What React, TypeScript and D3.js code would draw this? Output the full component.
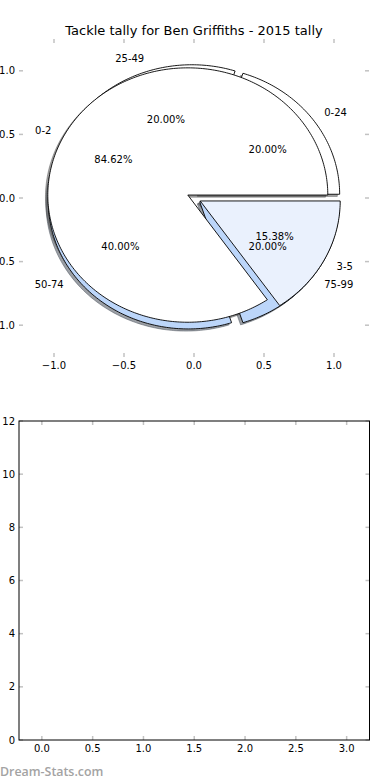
import * as d3 from "d3";

// chart data
const chartTitle = "Tackle tally for Ben Griffiths - 2015 tally";
const rangeLabels = ["0-24", "25-49", "50-74", "75-99"];
const rangeCounts = [1, 1, 2, 1];
const rangeColours = ["#ffffff", "#ffffff", "#bcd6fa", "#bcd6fa"];
const streakLabels = ["0-2", "3-5"];
const streakCounts = [11, 2];
const streakColours = ["#ffffff", "#eaf1fd"];
const pieTicks = [-1, -0.5, 0, 0.5, 1];
const barXTicks = [0, 0.5, 1, 1.5, 2, 2.5, 3];
const barYTicks = [0, 2, 4, 6, 8, 10, 12];

const EXPLODE = 0.05;
const SHADOW = -0.0167;
const FONT = "DejaVu Sans, Verdana, sans-serif";
const TICK_COLOUR = "#c2c2c2";

const width = 390;
const height = 780;

// top (pie) axes, limits as matplotlib pie sets them
const px = d3.scaleLinear().domain([-1.25, 1.25]).range([19, 369]);
const py = d3.scaleLinear().domain([-1.25, 1.25]).range([357, 39]);

// bottom (empty) axes
const bx = d3.scaleLinear().domain([-0.225, 3.225]).range([19, 369.5]);
const by = d3.scaleLinear().domain([0, 12]).range([740, 421]);

type Slice = {
  label: string;
  colour: string;
  pct: number;
  cx: number;
  cy: number;
  a0: number;
  a1: number;
  mid: number;
};

function buildSlices(labels: string[], counts: number[], colours: string[]): Slice[] {
  const total = d3.sum(counts);
  const arcs = d3
    .pie<number>()
    .sort(null)
    .startAngle(0)
    .endAngle(2 * Math.PI)(counts);
  // d3 angles used here as counter-clockwise from +x, like matplotlib
  return arcs.map((a, i) => {
    const mid = (a.startAngle + a.endAngle) / 2;
    return {
      label: labels[i],
      colour: colours[i],
      pct: (counts[i] / total) * 100,
      cx: EXPLODE * Math.cos(mid),
      cy: EXPLODE * Math.sin(mid),
      a0: a.startAngle,
      a1: a.endAngle,
      mid,
    };
  });
}

function wedgePath(cx: number, cy: number, a0: number, a1: number) {
  const n = Math.max(6, Math.ceil((a1 - a0) / (Math.PI / 180)));
  const p = d3.path();
  p.moveTo(px(cx), py(cy));
  for (let i = 0; i <= n; i++) {
    const a = a0 + ((a1 - a0) * i) / n;
    p.lineTo(px(cx + Math.cos(a)), py(cy + Math.sin(a)));
  }
  p.closePath();
  return p.toString();
}

function shadowColour(c: string) {
  const rgb = d3.rgb(c);
  return `rgba(${Math.round(rgb.r * 0.3)},${Math.round(rgb.g * 0.3)},${Math.round(rgb.b * 0.3)},0.5)`;
}

const rangeSlices = buildSlices(rangeLabels, rangeCounts, rangeColours);
const streakSlices = buildSlices(streakLabels, streakCounts, streakColours);
const allSlices = [...rangeSlices, ...streakSlices];

function Ticks({
  xs,
  ys,
  sx,
  sy,
  fmt,
}: {
  xs: number[];
  ys: number[];
  sx: d3.ScaleLinear<number, number>;
  sy: d3.ScaleLinear<number, number>;
  fmt: [(v: number) => string, (v: number) => string];
}) {
  const [x0, x1] = sx.range();
  const [y0, y1] = sy.range(); // y0 bottom, y1 top
  const len = 4;
  return (
    <g>
      {xs.map((v) => (
        <g key={"x" + v}>
          <line x1={sx(v)} x2={sx(v)} y1={y0} y2={y0 - len} stroke={TICK_COLOUR} strokeWidth={1.5} />
          <line x1={sx(v)} x2={sx(v)} y1={y1} y2={y1 + len} stroke={TICK_COLOUR} strokeWidth={1.5} />
          <text x={sx(v)} y={y0 + 12} textAnchor="middle" fontSize={10} fontFamily={FONT} fill="#000">
            {fmt[0](v)}
          </text>
        </g>
      ))}
      {ys.map((v) => (
        <g key={"y" + v}>
          <line x1={x0} x2={x0 + len} y1={sy(v)} y2={sy(v)} stroke={TICK_COLOUR} strokeWidth={1.5} />
          <line x1={x1} x2={x1 - len} y1={sy(v)} y2={sy(v)} stroke={TICK_COLOUR} strokeWidth={1.5} />
          <text x={x0 - 4} y={sy(v) + 3.6} textAnchor="end" fontSize={10} fontFamily={FONT} fill="#000">
            {fmt[1](v)}
          </text>
        </g>
      ))}
    </g>
  );
}

export default function App() {
  const fmtPie = (v: number) => d3.format(".1f")(v).replace("-", "\u2212");
  const fmtOne = (v: number) => d3.format(".1f")(v);
  const fmtInt = (v: number) => String(v);
  return (
    <div style={{ position: "absolute", left: 0, top: 0, width, height, background: "#fff" }}>
      <svg width={width} height={height} viewBox={`0 0 ${width} ${height}`} style={{ display: "block" }}>
        <rect width={width} height={height} fill="#fff" />

        {/* title */}
        <text x={px(0)} y={34.5} textAnchor="middle" fontSize={13} fontFamily={FONT} fill="#000">
          {chartTitle}
        </text>

        {/* shadows (drawn under every wedge) */}
        {allSlices.map((s, i) => (
          <path
            key={"sh" + i}
            d={wedgePath(s.cx + SHADOW, s.cy + SHADOW, s.a0, s.a1)}
            fill={shadowColour(s.colour)}
            stroke={shadowColour(s.colour)}
            strokeWidth={0.9}
          />
        ))}

        {/* wedges */}
        {allSlices.map((s, i) => (
          <path
            key={"w" + i}
            d={wedgePath(s.cx, s.cy, s.a0, s.a1)}
            fill={s.colour}
            stroke="#000"
            strokeWidth={0.9}
            strokeLinejoin="miter"
          />
        ))}

        {/* labels */}
        {allSlices.map((s, i) => {
          const xt = s.cx + 1.1 * Math.cos(s.mid);
          const yt = s.cy + 1.1 * Math.sin(s.mid);
          const xp = s.cx + 0.6 * Math.cos(s.mid);
          const yp = s.cy + 0.6 * Math.sin(s.mid);
          return (
            <g key={"l" + i} fontSize={10} fontFamily={FONT} fill="#000">
              <text x={px(xt)} y={py(yt) + 3.6} textAnchor={xt > 0 ? "start" : "end"}>
                {s.label}
              </text>
              <text x={px(xp)} y={py(yp) + 3.6} textAnchor="middle">
                {s.pct.toFixed(2) + "%"}
              </text>
            </g>
          );
        })}

        {/* pie axes ticks (frame hidden) */}
        <Ticks xs={pieTicks} ys={pieTicks} sx={px} sy={py} fmt={[fmtPie, fmtPie]} />

        {/* bottom empty axes */}
        <Ticks xs={barXTicks} ys={barYTicks} sx={bx} sy={by} fmt={[fmtOne, fmtInt]} />
        <rect
          x={bx.range()[0]}
          y={by.range()[1]}
          width={bx.range()[1] - bx.range()[0]}
          height={by.range()[0] - by.range()[1]}
          fill="none"
          stroke="#000"
          strokeWidth={1}
        />

        {/* watermark */}
        <text x={0} y={776} fontSize={12.4} fontWeight={600} fontFamily="Open Sans, sans-serif" fill="#a3a3a3">
          Dream-Stats.com
        </text>
      </svg>
    </div>
  );
}
